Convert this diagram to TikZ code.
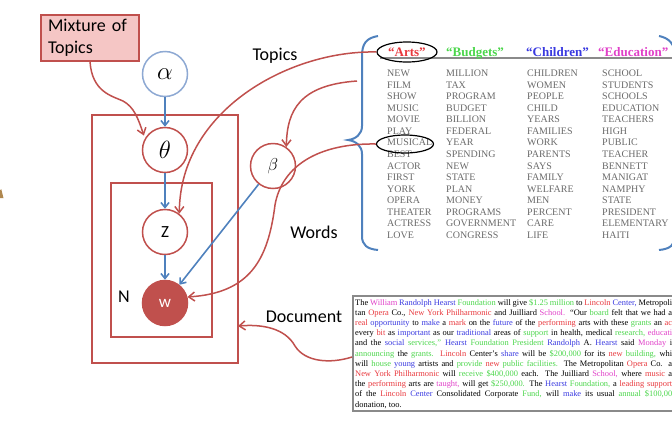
\documentclass[tikz,border=0pt]{standalone}
\usepackage{fontspec}
\setmainfont{Carlito}
\newfontfamily\tms{Liberation Serif}
\usetikzlibrary{arrows.meta,shapes.geometric,calc}
\definecolor{platec}{HTML}{C0504D}
\definecolor{bluec}{HTML}{4F81BD}
\definecolor{alphac}{HTML}{8EA9D3}
\definecolor{pinkc}{HTML}{F5C6C5}
\definecolor{wordgray}{HTML}{6A6A6A}
\definecolor{docgray}{HTML}{8A8A8A}
\definecolor{dR}{HTML}{E8383D}
\definecolor{dB}{HTML}{3A3AE0}
\definecolor{dG}{HTML}{4CD64C}
\definecolor{dM}{HTML}{E040C8}
\definecolor{brownc}{HTML}{B08850}
\newcommand{\cR}[1]{\textcolor{dR}{#1}}
\newcommand{\cB}[1]{\textcolor{dB}{#1}}
\newcommand{\cG}[1]{\textcolor{dG}{#1}}
\newcommand{\cM}[1]{\textcolor{dM}{#1}}
\newcommand{\docl}[1]{\makebox[317pt][s]{#1}}
\begin{document}
\begin{tikzpicture}[x=1pt,y=-1pt,
  platebox/.style={draw=platec, line width=1.3pt, inner sep=0pt, outer sep=0pt},
  latent/.style={circle, draw=platec, line width=1.5pt, minimum size=45pt, inner sep=0pt, fill=white},
  obs/.style={latent, fill=platec, text=white},
  hyper/.style={latent, draw=alphac},
  barrow/.style={draw=bluec, line width=1.6pt, -{Straight Barb[length=5pt,width=8pt]}},
  rarrow/.style={draw=platec, line width=1.5pt, -{Straight Barb[length=6pt,width=9pt]}},
  lbl/.style={font=\fontsize{18}{20}\selectfont, inner sep=0pt},
  word/.style={anchor=base west, font=\tms\fontsize{10}{10}\selectfont, text=wordgray, inner sep=0pt},
  hdr/.style={anchor=base west, font=\tms\bfseries\fontsize{13}{13}\selectfont, inner sep=0pt},
  docline/.style={anchor=base west, font=\tms\fontsize{8.4}{8.4}\selectfont, inner sep=0pt},
  ring/.style={ellipse, draw=black, line width=1.2pt, inner sep=0pt}
]
\useasboundingbox (0,0) rectangle (672,421);
\clip (0,0) rectangle (672,421);

% small fragment at left edge
\fill[brownc] (0,198) -- (3.5,198) -- (1.2,189) -- (0,190.5) -- cycle;

% mixture box
\node[draw=platec, fill=pinkc, line width=1.2pt, minimum width=98pt, minimum height=46pt,
      inner sep=0pt, font=\fontsize{18}{22}\selectfont, align=left, text width=84pt] (mix) at (90,38) {Mixture of\\Topics};

% plates
\node[platebox, minimum width=146pt, minimum height=248pt] (outer) at (165,239) {};
\node[platebox, minimum width=101pt, minimum height=154pt] (inner) at (161.5,260) {};

% variables
\node[hyper] (alpha) at (165,74) {\fontsize{24}{24}\selectfont$\alpha$};
\node[latent] (theta) at (165,150) {\fontsize{24}{24}\selectfont$\theta$};
\node[latent] (z) at (165,232) {\fontsize{17}{17}\selectfont Z};
\node[obs] (w) at (165,303) {\fontsize{17}{17}\selectfont w};
\node[latent] (beta) at (273,166) {\fontsize{19}{19}\selectfont$\beta$};

% labels
\node[lbl] (nlbl) at (124,297) {N};
\node[lbl] (topicslbl) at (275,56) {Topics};
\node[lbl] (wordslbl) at (314,232) {Words};
\node[lbl] (doclbl) at (304,317) {Document};

% topics table
\draw[docgray, line width=1.2pt] (380,58) -- (672,58);
\node[hdr, text=dR] (hA) at (388,56) {“Arts”};
\node[hdr, text=dG] (hB) at (446,56) {“Budgets”};
\node[hdr, text=dB] (hC) at (526,56) {“Children”};
\node[hdr, text=dM] (hD) at (598,56) {“Education”};
\foreach \w [count=\i from 0] in {NEW,FILM,SHOW,MUSIC,MOVIE,PLAY,MUSICAL,BEST,ACTOR,FIRST,YORK,OPERA,THEATER,ACTRESS,LOVE}
  \node[word] (ca\i) at (387,{76.5+11.57*\i}) {\w};
\foreach \w [count=\i from 0] in {MILLION,TAX,PROGRAM,BUDGET,BILLION,FEDERAL,YEAR,SPENDING,NEW,STATE,PLAN,MONEY,PROGRAMS,GOVERNMENT,CONGRESS}
  \node[word] (cb\i) at (446,{76.5+11.57*\i}) {\w};
\foreach \w [count=\i from 0] in {CHILDREN,WOMEN,PEOPLE,CHILD,YEARS,FAMILIES,WORK,PARENTS,SAYS,FAMILY,WELFARE,MEN,PERCENT,CARE,LIFE}
  \node[word] (cc\i) at (527,{76.5+11.57*\i}) {\w};
\foreach \w [count=\i from 0] in {SCHOOL,STUDENTS,SCHOOLS,EDUCATION,TEACHERS,HIGH,PUBLIC,TEACHER,BENNETT,MANIGAT,NAMPHY,STATE,PRESIDENT,ELEMENTARY,HAITI}
  \node[word] (cd\i) at (602,{76.5+11.57*\i}) {\w};
\node[ring, minimum width=60pt, minimum height=20pt] (artsring) at (407,52) {};
\node[ring, minimum width=57pt, minimum height=18pt] (musring) at (405,144) {};

% braces
\draw[bluec, line width=2pt] (378,36) .. controls (366,38) and (362,44) .. (362,56) -- (362,126)
  .. controls (362,134) and (356,139) .. (348,140) .. controls (356,141) and (362,146) .. (362,154)
  -- (362,236) .. controls (362,245) and (367,249) .. (378,250);
\draw[bluec, line width=2pt] (659,36) .. controls (669,38) and (675,44) .. (675,56) -- (675,236)
  .. controls (675,245) and (670,249) .. (659,250);

% document
\node[draw=docgray, line width=1.5pt, minimum width=330pt, minimum height=115pt, inner sep=0pt,
      anchor=north west] (docbox) at (352,295) {};
\node[docline] (l1) at (355,305.0) {\docl{The \cM{William} \cB{Randolph Hearst} \cG{Foundation} will give \cG{\$1.25 million} to \cR{Lincoln} \cB{Center,} Metropoli}};
\node[docline] (l2) at (355,315.2) {\docl{tan \cR{Opera} Co., \cR{New York Philharmonic} and Juilliard \cM{School.} “Our \cG{board} felt that we had a}};
\node[docline] (l3) at (355,325.4) {\docl{\cR{real} \cB{opportunity} to \cB{make} a \cR{mark} on the \cB{future} of the \cR{performing} arts with these \cG{grants} an \cR{ac}}};
\node[docline] (l4) at (355,335.6) {\docl{every \cR{bit} as \cB{important} as our \cB{traditional} areas of \cG{support} in health, medical \cG{research,} \cM{educati}}};
\node[docline] (l5) at (355,345.8) {\docl{and the \cB{social} \cG{services,”} \cB{Hearst} \cG{Foundation President} \cB{Randolph} A. \cB{Hearst} said \cM{Monday} i}};
\node[docline] (l6) at (355,356.0) {\docl{\cG{announcing} the \cG{grants.} \cR{Lincoln} Center’s \cB{share} will be \cG{\$200,000} for its \cR{new} \cG{building,} whi}};
\node[docline] (l7) at (355,366.2) {\docl{will \cG{house} \cB{young} artists and \cG{provide} \cR{new} \cG{public facilities.} The Metropolitan \cR{Opera} Co. a}};
\node[docline] (l8) at (355,376.4) {\docl{\cR{New York Philharmonic} will \cG{receive \$400,000} each. The Juilliard \cM{School,} where \cR{music} a}};
\node[docline] (l9) at (355,386.6) {\docl{the \cR{performing} arts are \cM{taught,} will get \cG{\$250,000.} The \cB{Hearst} \cG{Foundation,} a \cR{leading support}}};
\node[docline] (l10) at (355,396.8) {\docl{of the \cR{Lincoln} \cB{Center} Consolidated Corporate \cG{Fund,} will \cB{make} its usual \cG{annual \$100,00}}};
\node[docline] (l11) at (355,407.0) {donation, too.};

% blue arrows
\draw[barrow] (alpha) -- (theta);
\draw[barrow] (theta) -- (z);
\draw[barrow] (z) -- (w);
\draw[barrow] (beta) -- (w);

% red arrows
\coordinate (topicsin) at (357,81);
\coordinate (docout) at ($(docbox.north west)+(0,62)$);
\coordinate (platein) at ($(outer.north east)!0.851!(outer.south east)$);
\draw[rarrow, shorten >=3pt] (mix.south) .. controls (92,92) and (112,96) .. (123,101)
  .. controls (134,107) and (138,118) .. (theta.150);
\draw[rarrow] (artsring.west) .. controls (290,50) and (180,110) .. (z.52);
\draw[rarrow] (topicsin) .. controls (300,85) and (287,110) .. (beta.55);
\draw[rarrow] (musring.west) .. controls (320,143) and (282,165) .. (275,205)
  .. controls (268,260) and (250,293) .. (w.15);
\draw[rarrow] (docout) .. controls (330,364) and (305,362) .. (295,346)
  .. controls (285,328) and (262,324) .. (platein);
\end{tikzpicture}
\end{document}
